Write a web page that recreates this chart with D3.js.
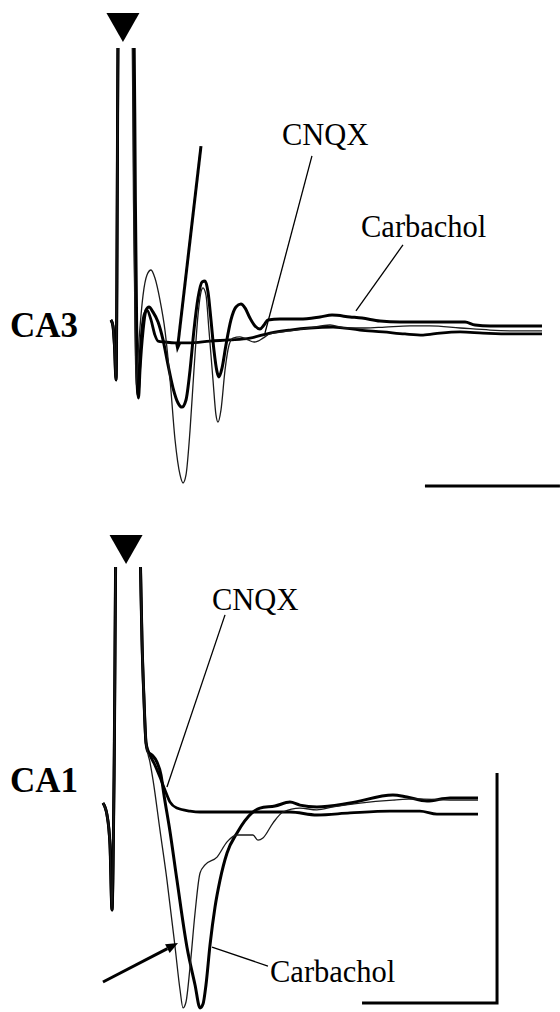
<!DOCTYPE html>
<html>
<head>
<meta charset="utf-8">
<script src="https://cdn.jsdelivr.net/npm/d3@7"></script>
<style>
body { margin: 0; background: #fff; }
svg { display: block; }
</style>
</head>
<body>
<div id="chart"></div>
<script>
// field potentials: [time (ms), potential (mV)]
var stimCA3 = 1.70;
var stimCA1 = 1.93;

var artifactCA3 = [[0.81,0.009],[0.96,-0.017],[1.07,-0.100],[1.19,-0.252],[1.37,1.40]];
var controlCA3 = [[2.36,1.40],[2.48,0.530],[2.60,-0.035],[2.67,-0.274],[2.89,-0.078],[3.19,0.117],[3.48,0.204],[3.78,0.226],[4.07,0.191],
    [4.44,0.096],[4.81,-0.035],[5.19,-0.252],[5.56,-0.513],[5.93,-0.665],[6.15,-0.700],[6.37,-0.665],[6.67,-0.470],
    [6.96,-0.209],[7.26,0.030],[7.48,0.130],[7.63,0.148],[7.85,0.117],[8.07,-0.035],[8.37,-0.252],[8.59,-0.404],
    [8.74,-0.435],[8.96,-0.383],[9.26,-0.209],[9.56,-0.100],[9.85,-0.070],[10.37,-0.065],[10.96,-0.078],[11.41,-0.087],
    [11.70,-0.083],[12.07,-0.070],[12.59,-0.052],[14.07,-0.039],[15.56,-0.026],[17.04,-0.013],[18.15,-0.026],
    [19.63,-0.026],[21.11,-0.022],[22.96,-0.017],[24.44,-0.017],[26.67,-0.026],[28.89,-0.035],[31.11,-0.039],[32.74,-0.039]];
var carbacholCA3 = [[2.50,1.40],[2.62,0.530],[2.72,-0.035],[2.85,-0.330],[2.96,-0.209],[3.19,-0.035],[3.41,0.052],[3.63,0.065],[3.93,0.043],
    [4.30,0],[4.67,-0.078],[5.04,-0.187],[5.41,-0.287],[5.78,-0.352],[6.07,-0.370],[6.37,-0.339],[6.67,-0.209],
    [6.96,-0.035],[7.26,0.104],[7.56,0.174],[7.78,0.178],[8.00,0.130],[8.22,0.009],[8.44,-0.122],[8.67,-0.217],
    [8.81,-0.239],[9.04,-0.200],[9.33,-0.100],[9.70,0.009],[10.07,0.065],[10.44,0.078],[10.74,0.061],[11.11,0.017],
    [11.48,-0.017],[11.85,-0.030],[12.15,-0.013],[12.44,0.009],[13.33,0.013],[14.81,0.013],[16.30,0.022],[17.19,0.030],
    [18.52,0.022],[19.41,0.017],[20.74,0.004],[22.22,0],[24.44,0],[27.04,0],[27.78,-0.013],[28.89,-0.017],
    [30.37,-0.017],[32.74,-0.017]];
var cnqxCA3 = [[2.44,1.40],[2.56,0.530],[2.66,-0.035],[2.81,-0.317],[3.04,-0.078],[3.26,0.030],[3.48,0.052],[3.78,0.009],[4.07,-0.057],
    [4.30,-0.083],[4.81,-0.087],[5.56,-0.091],[6.67,-0.091],[8.15,-0.083],[9.63,-0.078],[11.11,-0.070],[12.59,-0.048],
    [14.07,-0.035],[15.56,-0.026],[17.26,-0.022],[19.26,-0.035],[20.96,-0.043],[22.59,-0.052],[23.93,-0.057],
    [25.19,-0.048],[26.67,-0.043],[28.37,-0.048],[30.37,-0.052],[32.74,-0.052]];

var artifactCA1 = [[0.22,0.039],[0.52,-0.013],[0.74,-0.143],[0.89,-0.426],[1.04,0.139],[1.22,1.357],[2.89,1.357],
    [3.00,1.065],[3.11,0.748],[3.26,0.487],[3.41,0.300]];
var controlCA1 = [[3.70,0.217],[3.93,0.139],[4.44,-0.078],[4.96,-0.296],[5.56,-0.587],[5.93,-0.774],[6.15,-0.852],
    [6.37,-0.826],[6.67,-0.674],[7.04,-0.439],[7.41,-0.265],[7.78,-0.230],[8.67,-0.196],[9.41,-0.130],[10.15,-0.100],
    [11.33,-0.100],[11.70,-0.122],[12.07,-0.113],[12.81,-0.048],[13.56,0],[14.81,0.017],[16.07,0.009],[17.26,0.022],
    [19.26,0.039],[21.70,0.052],[23.48,0.057],[25.93,0.052],[28.00,0.052]];
var carbacholCA1 = [[3.56,0.261],[3.85,0.248],[4.22,0.217],[4.52,0.161],[4.74,0.074],[5.19,-0.087],[5.70,-0.296],
    [6.44,-0.587],[7.04,-0.752],[7.41,-0.852],[7.63,-0.835],[7.85,-0.752],[8.15,-0.578],[8.52,-0.413],[8.89,-0.296],
    [9.41,-0.178],[10.15,-0.091],[11.26,-0.004],[11.85,0.017],[12.96,0.026],[14.07,0.043],[14.81,0.030],[16.07,0.022],
    [18.52,0.039],[21.70,0.074],[22.74,0.065],[24.22,0.048],[25.93,0.061],[28.00,0.061]];
var cnqxCA1 = [[3.70,0.248],[4.07,0.204],[4.44,0.152],[4.81,0.096],[5.19,0.043],[5.70,0.017],[6.67,0.004],[7.41,0],
    [11.11,0],[14.07,0],[16.07,-0.013],[18.52,-0.004],[21.48,0.004],[23.70,0.004],[24.96,-0.009],[28.00,-0.009]];

// pointer lines [from, to] in ms / mV
var pointersCA3 = [
    { text: "CNQX", from: [15.70, 0.722], to: [12.22, -0.048] },
    { text: "Carbachol", from: [22.44, 0.335], to: [18.96, 0.048] }
];
var pointersCA1 = [
    { text: "CNQX", from: [9.26, 0.857], to: [4.96, 0.109] },
    { text: "Carbachol", from: [12.44, -0.670], to: [8.30, -0.587] }
];
var arrowCA3 = [[7.48, 0.765], [5.70, -0.135]];
var arrowCA1 = [[0.22, -0.739], [5.78, -0.570]];

// scale bars: 10 ms, 10 ms, 1 mV
var barCA3 = { t0: 24.07, dt: 10, v: -0.713 };
var barCA1 = { t: 29.41, dt: 10, v0: -0.83, dv: 1 };

var width = 560, height = 1012;
var svg = d3.select("#chart").append("svg")
    .attr("width", width).attr("height", height)
    .style("font-family", "'Liberation Serif', 'Times New Roman', serif");

var x = d3.scaleLinear().domain([0, 34]).range([100, 100 + 34 * 13.5]);

var panels = [
    { name: "CA3", base: 322, clip: [48, 505], stim: stimCA3, artifact: artifactCA3,
      traces: [cnqxCA3, carbacholCA3, controlCA3], pointers: pointersCA3, arrow: arrowCA3,
      labelY: 337, textPos: [[282, 145], [361, 237]], tri: 13 },
    { name: "CA1", base: 812, clip: [567, 1012], stim: stimCA1, artifact: artifactCA1,
      traces: [cnqxCA1, carbacholCA1, controlCA1], pointers: pointersCA1, arrow: arrowCA1,
      labelY: 792, textPos: [[212, 610], [270, 982]], tri: 535 }
];
var traceStyle = [
    { w: 2.8, c: "#000" },
    { w: 3.0, c: "#000" },
    { w: 1.3, c: "#1a1a1a" }
];

panels.forEach(function(p, pi) {
    var y = d3.scaleLinear().domain([-1, 1]).range([p.base + 230, p.base - 230]);
    var g = svg.append("g");

    svg.append("clipPath").attr("id", "clip" + pi)
        .append("rect").attr("x", 0).attr("y", p.clip[0])
        .attr("width", width).attr("height", p.clip[1] - p.clip[0]);

    var line = d3.line()
        .x(function(d) { return x(d[0]); })
        .y(function(d) { return y(d[1]); })
        .curve(d3.curveMonotoneX);

    g.append("g").attr("clip-path", "url(#clip" + pi + ")")
        .selectAll("path.trace")
        .data(p.traces)
        .join("path").attr("class", "trace")
        .attr("d", function(d) { return line(p.artifact.concat(d)); })
        .attr("fill", "none")
        .attr("stroke", function(d, i) { return traceStyle[i].c; })
        .attr("stroke-width", function(d, i) { return traceStyle[i].w; })
        .attr("stroke-linejoin", "round");

    // stimulus marker
    var sx = x(p.stim);
    g.append("path")
        .attr("d", "M" + (sx - 16.5) + "," + p.tri + "L" + (sx + 16.5) + "," + p.tri + "L" + sx + "," + (p.tri + 29) + "Z")
        .attr("fill", "#000");

    // region label
    g.append("text").attr("x", 10).attr("y", p.labelY)
        .style("font-size", "35px").style("font-weight", "bold")
        .text(p.name);

    // pointer labels
    p.pointers.forEach(function(q, i) {
        g.append("line")
            .attr("x1", x(q.from[0])).attr("y1", y(q.from[1]))
            .attr("x2", x(q.to[0])).attr("y2", y(q.to[1]))
            .attr("stroke", "#000").attr("stroke-width", 1.3);
        g.append("text").attr("x", p.textPos[i][0]).attr("y", p.textPos[i][1])
            .style("font-size", "30.5px").text(q.text);
    });

    // arrow
    var x1 = x(p.arrow[0][0]), y1 = y(p.arrow[0][1]);
    var x2 = x(p.arrow[1][0]), y2 = y(p.arrow[1][1]);
    var ang = Math.atan2(y2 - y1, x2 - x1);
    var hl = pi === 0 ? 10 : 12, hw = pi === 0 ? 3 : 5;
    var bx = x2 - hl * Math.cos(ang), by = y2 - hl * Math.sin(ang);
    g.append("line").attr("x1", x1).attr("y1", y1).attr("x2", bx).attr("y2", by)
        .attr("stroke", "#000").attr("stroke-width", 3);
    g.append("path")
        .attr("d", "M" + x2 + "," + y2 +
            "L" + (bx + hw * Math.sin(ang)) + "," + (by - hw * Math.cos(ang)) +
            "L" + (bx - hw * Math.sin(ang)) + "," + (by + hw * Math.cos(ang)) + "Z")
        .attr("fill", "#000");

    // scale bars
    if (pi === 0) {
        g.append("line")
            .attr("x1", x(barCA3.t0)).attr("x2", x(barCA3.t0 + barCA3.dt))
            .attr("y1", y(barCA3.v)).attr("y2", y(barCA3.v))
            .attr("stroke", "#000").attr("stroke-width", 3);
    } else {
        g.append("path")
            .attr("d", "M" + x(barCA1.t) + "," + y(barCA1.v0 + barCA1.dv) +
                "L" + x(barCA1.t) + "," + y(barCA1.v0) +
                "L" + x(barCA1.t - barCA1.dt) + "," + y(barCA1.v0))
            .attr("fill", "none").attr("stroke", "#000").attr("stroke-width", 3);
    }
});
</script>
</body>
</html>
